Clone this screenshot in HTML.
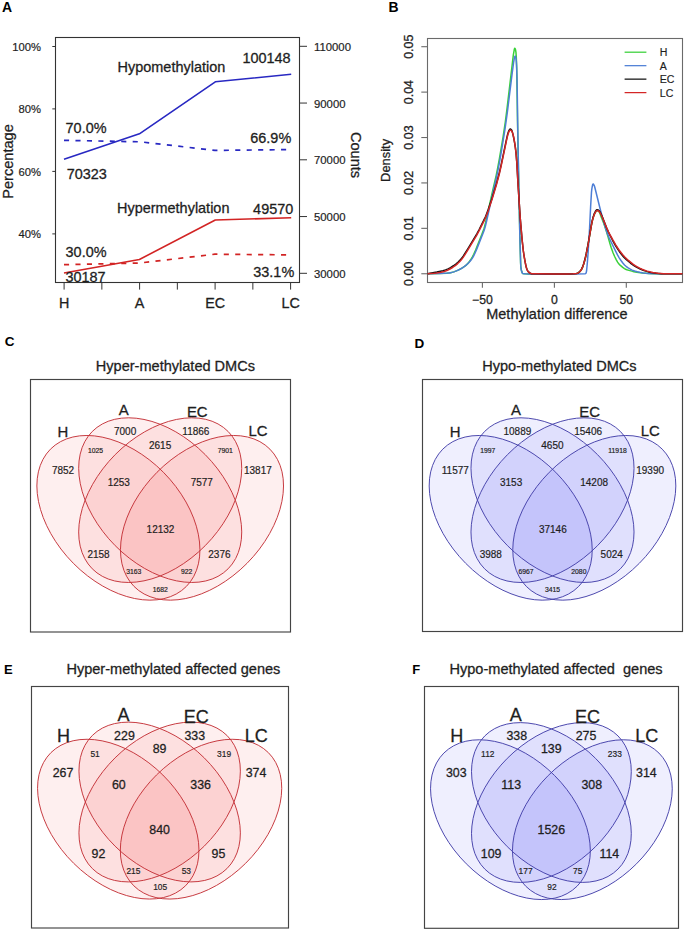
<!DOCTYPE html><html><head><meta charset="utf-8"><style>html,body{margin:0;padding:0;background:#fff;width:685px;height:932px;overflow:hidden}svg{display:block}text{font-family:"Liberation Sans",sans-serif}</style></head><body>
<svg width="685" height="932" viewBox="0 0 685 932">
<rect x="0" y="0" width="685" height="932" fill="#fff"/>
<text transform="translate(2 11.6)" font-size="14" text-anchor="start" font-weight="bold" fill="#000" stroke="#000" stroke-width="0" xml:space="preserve">A</text>
<rect x="55.5" y="37.5" width="244" height="245" fill="none" stroke="#333" stroke-width="1.1"/>
<line x1="52.3" y1="46.5" x2="55.5" y2="46.5" stroke="#333" stroke-width="1"/>
<text transform="translate(40.9 50.6) scale(1.03 1)" font-size="10.9" text-anchor="end" font-weight="normal" fill="#1e1e1e" stroke="#1e1e1e" stroke-width="0.18" xml:space="preserve">100%</text>
<line x1="52.3" y1="108.9" x2="55.5" y2="108.9" stroke="#333" stroke-width="1"/>
<text transform="translate(40.9 113) scale(1.03 1)" font-size="10.9" text-anchor="end" font-weight="normal" fill="#1e1e1e" stroke="#1e1e1e" stroke-width="0.18" xml:space="preserve">80%</text>
<line x1="52.3" y1="171.4" x2="55.5" y2="171.4" stroke="#333" stroke-width="1"/>
<text transform="translate(40.9 175.5) scale(1.03 1)" font-size="10.9" text-anchor="end" font-weight="normal" fill="#1e1e1e" stroke="#1e1e1e" stroke-width="0.18" xml:space="preserve">60%</text>
<line x1="52.3" y1="233.9" x2="55.5" y2="233.9" stroke="#333" stroke-width="1"/>
<text transform="translate(40.9 238) scale(1.03 1)" font-size="10.9" text-anchor="end" font-weight="normal" fill="#1e1e1e" stroke="#1e1e1e" stroke-width="0.18" xml:space="preserve">40%</text>
<line x1="299.5" y1="46.3" x2="307" y2="46.3" stroke="#333" stroke-width="1"/>
<text transform="translate(314 50.8) scale(1.03 1)" font-size="11" text-anchor="start" font-weight="normal" fill="#1e1e1e" stroke="#1e1e1e" stroke-width="0.18" xml:space="preserve">110000</text>
<line x1="299.5" y1="103.05" x2="307" y2="103.05" stroke="#333" stroke-width="1"/>
<text transform="translate(314 107.55) scale(1.03 1)" font-size="11" text-anchor="start" font-weight="normal" fill="#1e1e1e" stroke="#1e1e1e" stroke-width="0.18" xml:space="preserve">90000</text>
<line x1="299.5" y1="159.8" x2="307" y2="159.8" stroke="#333" stroke-width="1"/>
<text transform="translate(314 164.3) scale(1.03 1)" font-size="11" text-anchor="start" font-weight="normal" fill="#1e1e1e" stroke="#1e1e1e" stroke-width="0.18" xml:space="preserve">70000</text>
<line x1="299.5" y1="216.55" x2="307" y2="216.55" stroke="#333" stroke-width="1"/>
<text transform="translate(314 221.05) scale(1.03 1)" font-size="11" text-anchor="start" font-weight="normal" fill="#1e1e1e" stroke="#1e1e1e" stroke-width="0.18" xml:space="preserve">50000</text>
<line x1="299.5" y1="273.3" x2="307" y2="273.3" stroke="#333" stroke-width="1"/>
<text transform="translate(314 277.8) scale(1.03 1)" font-size="11" text-anchor="start" font-weight="normal" fill="#1e1e1e" stroke="#1e1e1e" stroke-width="0.18" xml:space="preserve">30000</text>
<line x1="64.1" y1="282.5" x2="64.1" y2="289.6" stroke="#333" stroke-width="1"/>
<line x1="101.85" y1="282.5" x2="101.85" y2="289.6" stroke="#333" stroke-width="1"/>
<line x1="139.6" y1="282.5" x2="139.6" y2="289.6" stroke="#333" stroke-width="1"/>
<line x1="177.35" y1="282.5" x2="177.35" y2="289.6" stroke="#333" stroke-width="1"/>
<line x1="215.1" y1="282.5" x2="215.1" y2="289.6" stroke="#333" stroke-width="1"/>
<line x1="252.85" y1="282.5" x2="252.85" y2="289.6" stroke="#333" stroke-width="1"/>
<line x1="290.6" y1="282.5" x2="290.6" y2="289.6" stroke="#333" stroke-width="1"/>
<text transform="translate(64.1 308.4) scale(1.04 1)" font-size="13.8" text-anchor="middle" font-weight="normal" fill="#1e1e1e" stroke="#1e1e1e" stroke-width="0.28" xml:space="preserve">H</text>
<text transform="translate(139.6 308.4) scale(1.04 1)" font-size="13.8" text-anchor="middle" font-weight="normal" fill="#1e1e1e" stroke="#1e1e1e" stroke-width="0.28" xml:space="preserve">A</text>
<text transform="translate(215.1 308.4) scale(1.04 1)" font-size="13.8" text-anchor="middle" font-weight="normal" fill="#1e1e1e" stroke="#1e1e1e" stroke-width="0.28" xml:space="preserve">EC</text>
<text transform="translate(290.6 308.4) scale(1.04 1)" font-size="13.8" text-anchor="middle" font-weight="normal" fill="#1e1e1e" stroke="#1e1e1e" stroke-width="0.28" xml:space="preserve">LC</text>
<text transform="translate(13.4 161.5) rotate(-90)" font-size="14.6" text-anchor="middle" font-weight="normal" fill="#1e1e1e" stroke="#1e1e1e" stroke-width="0.28" xml:space="preserve">Percentage</text>
<text transform="translate(351 155) rotate(90)" font-size="14.6" text-anchor="middle" font-weight="normal" fill="#1e1e1e" stroke="#1e1e1e" stroke-width="0.28" xml:space="preserve">Counts</text>
<polyline points="64,159.3 139.4,133.8 215.3,81.8 291.2,74.3" fill="none" stroke="#2828c2" stroke-width="1.6" stroke-linejoin="round"/>
<polyline points="64,140.3 140,141.8 215,150.4 291,149.6" fill="none" stroke="#2828c2" stroke-width="1.7" stroke-dasharray="5.1 6.35"/>
<polyline points="64,273 139.4,259.5 215.3,220 291.2,217.7" fill="none" stroke="#d22424" stroke-width="1.6" stroke-linejoin="round"/>
<polyline points="64,264.7 140,263 215,254.2 291,254.9" fill="none" stroke="#d22424" stroke-width="1.7" stroke-dasharray="5.1 6.35"/>
<text transform="translate(117.6 71.9) scale(1.04 1)" font-size="13.9" text-anchor="start" font-weight="normal" fill="#1e1e1e" stroke="#1e1e1e" stroke-width="0.28" xml:space="preserve">Hypomethylation</text>
<text transform="translate(290.6 62.8) scale(1.04 1)" font-size="13.9" text-anchor="end" font-weight="normal" fill="#1e1e1e" stroke="#1e1e1e" stroke-width="0.28" xml:space="preserve">100148</text>
<text transform="translate(65.6 132.5) scale(1.03 1)" font-size="14" text-anchor="start" font-weight="normal" fill="#1e1e1e" stroke="#1e1e1e" stroke-width="0.28" xml:space="preserve">70.0%</text>
<text transform="translate(66.8 179.1) scale(1.03 1)" font-size="14" text-anchor="start" font-weight="normal" fill="#1e1e1e" stroke="#1e1e1e" stroke-width="0.28" xml:space="preserve">70323</text>
<text transform="translate(291.2 142.7) scale(1.03 1)" font-size="14" text-anchor="end" font-weight="normal" fill="#1e1e1e" stroke="#1e1e1e" stroke-width="0.28" xml:space="preserve">66.9%</text>
<text transform="translate(117 213.3) scale(1.04 1)" font-size="13.9" text-anchor="start" font-weight="normal" fill="#1e1e1e" stroke="#1e1e1e" stroke-width="0.28" xml:space="preserve">Hypermethylation</text>
<text transform="translate(293.2 214) scale(1.03 1)" font-size="14" text-anchor="end" font-weight="normal" fill="#1e1e1e" stroke="#1e1e1e" stroke-width="0.28" xml:space="preserve">49570</text>
<text transform="translate(65.6 257.3) scale(1.03 1)" font-size="14" text-anchor="start" font-weight="normal" fill="#1e1e1e" stroke="#1e1e1e" stroke-width="0.28" xml:space="preserve">30.0%</text>
<text transform="translate(65.4 282.3) scale(1.03 1)" font-size="14" text-anchor="start" font-weight="normal" fill="#1e1e1e" stroke="#1e1e1e" stroke-width="0.28" xml:space="preserve">30187</text>
<text transform="translate(294.2 276.6) scale(1.03 1)" font-size="14" text-anchor="end" font-weight="normal" fill="#1e1e1e" stroke="#1e1e1e" stroke-width="0.28" xml:space="preserve">33.1%</text>
<text transform="translate(388.6 11.8)" font-size="13.9" text-anchor="start" font-weight="bold" fill="#000" stroke="#000" stroke-width="0" xml:space="preserve">B</text>
<rect x="427.5" y="38.5" width="255" height="244" fill="none" stroke="#6a6a6a" stroke-width="1.1"/>
<line x1="421.3" y1="46.7" x2="427.5" y2="46.7" stroke="#6a6a6a" stroke-width="1.1"/>
<text transform="translate(413.4 46.7) rotate(-90)" font-size="12.5" text-anchor="middle" font-weight="normal" fill="#1e1e1e" stroke="#1e1e1e" stroke-width="0.28" xml:space="preserve">0.05</text>
<line x1="421.3" y1="92.11" x2="427.5" y2="92.11" stroke="#6a6a6a" stroke-width="1.1"/>
<text transform="translate(413.4 92.11) rotate(-90)" font-size="12.5" text-anchor="middle" font-weight="normal" fill="#1e1e1e" stroke="#1e1e1e" stroke-width="0.28" xml:space="preserve">0.04</text>
<line x1="421.3" y1="137.52" x2="427.5" y2="137.52" stroke="#6a6a6a" stroke-width="1.1"/>
<text transform="translate(413.4 137.52) rotate(-90)" font-size="12.5" text-anchor="middle" font-weight="normal" fill="#1e1e1e" stroke="#1e1e1e" stroke-width="0.28" xml:space="preserve">0.03</text>
<line x1="421.3" y1="182.93" x2="427.5" y2="182.93" stroke="#6a6a6a" stroke-width="1.1"/>
<text transform="translate(413.4 182.93) rotate(-90)" font-size="12.5" text-anchor="middle" font-weight="normal" fill="#1e1e1e" stroke="#1e1e1e" stroke-width="0.28" xml:space="preserve">0.02</text>
<line x1="421.3" y1="228.34" x2="427.5" y2="228.34" stroke="#6a6a6a" stroke-width="1.1"/>
<text transform="translate(413.4 228.34) rotate(-90)" font-size="12.5" text-anchor="middle" font-weight="normal" fill="#1e1e1e" stroke="#1e1e1e" stroke-width="0.28" xml:space="preserve">0.01</text>
<line x1="421.3" y1="273.75" x2="427.5" y2="273.75" stroke="#6a6a6a" stroke-width="1.1"/>
<text transform="translate(413.4 273.75) rotate(-90)" font-size="12.5" text-anchor="middle" font-weight="normal" fill="#1e1e1e" stroke="#1e1e1e" stroke-width="0.28" xml:space="preserve">0.00</text>
<line x1="482.4" y1="282.5" x2="482.4" y2="287.8" stroke="#6a6a6a" stroke-width="1.1"/>
<text transform="translate(482.4 304.4) scale(1.02 1)" font-size="12" text-anchor="middle" font-weight="normal" fill="#1e1e1e" stroke="#1e1e1e" stroke-width="0.28" xml:space="preserve">−50</text>
<line x1="554.4" y1="282.5" x2="554.4" y2="287.8" stroke="#6a6a6a" stroke-width="1.1"/>
<text transform="translate(554.4 304.4) scale(1.02 1)" font-size="12" text-anchor="middle" font-weight="normal" fill="#1e1e1e" stroke="#1e1e1e" stroke-width="0.28" xml:space="preserve">0</text>
<line x1="626.3" y1="282.5" x2="626.3" y2="287.8" stroke="#6a6a6a" stroke-width="1.1"/>
<text transform="translate(626.3 304.4) scale(1.02 1)" font-size="12" text-anchor="middle" font-weight="normal" fill="#1e1e1e" stroke="#1e1e1e" stroke-width="0.28" xml:space="preserve">50</text>
<text transform="translate(556.9 318.5) scale(1.02 1)" font-size="14.2" text-anchor="middle" font-weight="normal" fill="#1e1e1e" stroke="#1e1e1e" stroke-width="0.28" xml:space="preserve">Methylation difference</text>
<text transform="translate(389.9 160.4) rotate(-90)" font-size="12.9" text-anchor="middle" font-weight="normal" fill="#1e1e1e" stroke="#1e1e1e" stroke-width="0.28" xml:space="preserve">Density</text>
<line x1="624.6" y1="52.2" x2="646.4" y2="52.2" stroke="#38d038" stroke-width="1.25"/>
<text transform="translate(659.8 56.1) scale(0.98 1)" font-size="10.8" text-anchor="start" font-weight="normal" fill="#1e1e1e" stroke="#1e1e1e" stroke-width="0.18" xml:space="preserve">H</text>
<line x1="624.6" y1="65.67" x2="646.4" y2="65.67" stroke="#4d7ed6" stroke-width="1.25"/>
<text transform="translate(659.8 69.57) scale(0.98 1)" font-size="10.8" text-anchor="start" font-weight="normal" fill="#1e1e1e" stroke="#1e1e1e" stroke-width="0.18" xml:space="preserve">A</text>
<line x1="624.6" y1="79.14" x2="646.4" y2="79.14" stroke="#111" stroke-width="1.25"/>
<text transform="translate(659.8 83.04) scale(0.98 1)" font-size="10.8" text-anchor="start" font-weight="normal" fill="#1e1e1e" stroke="#1e1e1e" stroke-width="0.18" xml:space="preserve">EC</text>
<line x1="624.6" y1="92.61" x2="646.4" y2="92.61" stroke="#d42626" stroke-width="1.25"/>
<text transform="translate(659.8 96.51) scale(0.98 1)" font-size="10.8" text-anchor="start" font-weight="normal" fill="#1e1e1e" stroke="#1e1e1e" stroke-width="0.18" xml:space="preserve">LC</text>
<g fill="none" stroke-width="1.5" stroke-linejoin="round">
<path d="M427.5,273.7 L438.7,273.45 L446.74,273.15 L448.69,273.02 L450.64,272.74 L453.85,271.88 L457.63,270.37 L461.17,268.56 L464.53,266.44 L466.54,264.83 L468.43,262.87 L470.48,260.06 L472.56,256.63 L473.72,254.33 L475.62,250.1 L481.88,234.38 L483.86,229.05 L484.59,226.55 L485.5,222.89 L492.5,191.31 L496.25,175.06 L497.74,167.74 L499.5,158.14 L503.1,136.77 L505.3,122.16 L506.87,109.95 L513.35,54.85 L514.28,49.51 L514.62,48.38 L514.8,48.2 L515.07,48.46 L515.6,50 L515.97,52.41 L516.29,57.23 L516.72,67.99 L517.52,121.05 L518.35,165.08 L519.86,236.27 L520.63,263.03 L520.79,266.3 L521.11,269.03 L521.78,271.81 L522.29,272.92 L522.6,273.3 L522.96,273.54 L523.36,273.63 L525.09,273.8 L528.32,273.96 L541.97,274.18 L558.49,274.16 L568.74,273.99 L574.71,273.73 L576.43,273.56 L577.39,273.34 L578.92,272.44 L580.4,271 L581.3,269.8 L581.87,268.82 L583.1,265.88 L584.39,261.73 L585.55,257.32 L586.7,251.83 L588.39,242.9 L591.28,225.94 L592.35,220.78 L593.46,216.8 L594.55,213.89 L595.85,211.61 L596.61,210.79 L597,210.6 L597.5,210.61 L598.02,210.81 L598.53,211.16 L599,211.6 L599.58,212.51 L601,216.5 L603.5,222.64 L604.84,226.44 L606.3,231.04 L607.89,236.33 L609.93,243.62 L611.15,247.5 L612.93,252.52 L614.52,256.27 L616.3,259.8 L617.62,262.08 L618.34,263.15 L620.09,265.13 L622.73,267.41 L624.44,268.57 L625.63,269.22 L626.92,269.75 L628.91,270.36 L632.78,271.4 L635.31,271.95 L638.55,272.49 L642.6,272.98 L648.62,273.48 L656.04,273.72 L682.5,273.7" stroke="#38d038"/>
<path d="M427.5,273.7 L440.02,273.41 L447.4,273.11 L449.34,272.94 L451.3,272.6 L453.85,271.88 L456.39,270.92 L459.42,269.5 L462.86,267.53 L465.52,265.64 L467.99,263.48 L470.29,260.98 L471.92,258.85 L473.3,256.64 L474.72,253.74 L476.83,248.87 L483.72,231.41 L484.56,229.05 L485.29,226.55 L486.51,221.53 L493.2,191.31 L496.65,176.42 L497.94,170.28 L499.45,162.35 L501.31,151.76 L504.92,129.52 L507.29,112.61 L512.22,72.95 L513.62,62.48 L514.3,58.42 L514.86,56.4 L515.1,56.1 L515.37,56.38 L515.9,58 L516.3,60.95 L516.54,65.07 L516.98,77.16 L517.33,97 L517.74,128.81 L518.74,183.13 L519.87,236.97 L520.63,263.03 L520.79,266.3 L521.11,269.03 L521.78,271.81 L522.29,272.92 L522.6,273.3 L522.96,273.54 L525.01,273.8 L530.28,274 L540.02,274.13 L557.56,274.15 L574.01,273.99 L585.35,273.67 L585.8,273.4 L586.22,272.63 L586.59,270.75 L587.43,261.78 L588.08,252.89 L589.48,230.04 L590.62,206.66 L591.47,192.35 L591.85,188.76 L592.32,186.07 L592.68,184.64 L592.88,184.19 L593.1,184 L593.45,184.22 L593.84,184.81 L594.4,185.95 L594.73,186.99 L600.17,208.95 L602.08,216.25 L605.5,228.04 L607.5,233.9 L609.03,237.56 L610.75,241.27 L615.6,251.2 L617.52,254.93 L619.2,257.8 L621.18,260.78 L622.82,262.99 L624.55,264.96 L626.02,266.31 L628.15,267.9 L630.35,269.21 L632.14,270.09 L634.64,271.01 L637.29,271.76 L639.85,272.33 L643.28,272.94 L646,273.3 L648.61,273.52 L655.51,273.71 L682.5,273.7" stroke="#4d7ed6"/>
<path d="M427.5,273.7 L436.83,271.98 L442.93,270.66 L445.59,269.9 L448.11,268.86 L450.52,267.59 L453.45,265.76 L456.14,263.78 L458.17,262.01 L460.04,260.12 L461.8,258.1 L463.38,255.97 L468.42,247.89 L476.84,233.87 L479.03,229.76 L484.56,218.69 L485.7,216.2 L488.12,209.85 L492.06,198.17 L496.36,183.85 L499.5,172.1 L501.19,164.69 L506.47,139.47 L507.6,134.5 L508.27,132.26 L509.02,130.36 L509.78,129.3 L510.3,129 L510.86,129.19 L511.4,129.7 L511.64,130.06 L512.22,131.59 L512.95,134.37 L513.84,138.53 L514.63,142.87 L515.37,147.63 L516,152.65 L516.86,163.12 L518.12,185.77 L520.25,218.41 L522.09,239.55 L523.38,251.25 L524.01,255.51 L525.13,261.91 L525.71,264.85 L526.36,267.49 L526.92,269.2 L527.56,270.61 L528.27,271.64 L529.26,272.6 L529.81,272.96 L531,273.5 L531.52,273.66 L532.56,273.78 L536,273.7 L554.23,273.95 L568.24,273.95 L573.5,273.81 L576.92,273.49 L577.9,273.1 L579.43,271.94 L580.4,270.87 L581.3,269.6 L582.39,267.46 L583.54,264.22 L585.08,258.81 L586.28,253.47 L588.13,243.8 L591.66,223.3 L592.35,220.1 L593.26,216.67 L594.31,213.53 L595.48,211.28 L596.22,210.24 L596.61,209.89 L597,209.7 L597.49,209.7 L598.52,210.22 L599.37,210.98 L600.04,211.97 L601,213.8 L602.5,217.22 L606.75,228.19 L608.42,232 L610.21,235.72 L612.44,240.03 L615.06,244.77 L617.09,248.2 L620.06,252.58 L621.8,254.83 L623.61,256.93 L626.43,259.77 L630.4,263.02 L633.19,265.03 L635.52,266.51 L637.86,267.83 L640.22,268.98 L643.24,270.25 L645.77,271.14 L648.4,271.9 L650.87,272.46 L656.06,273.28 L661.4,273.64 L667.91,273.77 L682.5,273.7" stroke="#111"/>
<path d="M427.5,273.7 L434.21,273.26 L436.83,272.99 L440.9,272.28 L444.26,271.44 L446.9,270.5 L449.92,269.03 L452.88,267.25 L455.6,265.3 L457.68,263.56 L459.58,261.71 L461.37,259.72 L463,257.62 L464.49,255.38 L468.07,249.58 L476.51,235.55 L479.03,230.86 L484.56,219.79 L485.7,217.3 L488.12,210.95 L492.06,199.27 L496.36,184.95 L499.5,173.2 L501.19,165.79 L506.47,140.57 L507.6,135.6 L508.27,133.36 L509.02,131.46 L509.78,130.4 L510.3,130.1 L510.86,130.31 L511.4,130.8 L512.02,131.66 L512.6,133 L513.11,134.72 L513.76,137.64 L514.53,141.95 L515.37,147.6 L516,152.65 L516.86,163.12 L518.12,185.77 L520.25,218.41 L522.09,239.55 L523.38,251.25 L524.01,255.51 L525.13,261.91 L525.71,264.85 L526.36,267.49 L526.92,269.2 L527.56,270.61 L528.27,271.64 L529.26,272.6 L529.81,272.96 L531,273.5 L531.52,273.66 L532.56,273.78 L536,273.7 L554.23,273.95 L567.53,273.96 L573.04,273.83 L576.41,273.56 L577.39,273.34 L577.9,273.1 L579.42,272.01 L580.4,271 L581.3,269.8 L582.39,267.72 L583.54,264.55 L585.08,259.23 L586.28,253.93 L588.13,244.3 L591.66,223.92 L592.35,220.78 L593.26,217.45 L594.32,214.41 L595.48,212.19 L596.22,211.15 L596.6,210.8 L597,210.6 L597.49,210.58 L598.01,210.75 L599,211.4 L599.72,212.21 L600.36,213.29 L602.1,216.79 L606.75,228.1 L608.47,231.79 L610.37,235.47 L612.73,239.73 L615.53,244.53 L617.7,248.02 L619.2,250.2 L621.37,253.06 L623.16,255.19 L625,257.2 L628.4,260.42 L632.98,264.1 L635.09,265.59 L637.28,266.94 L639.62,268.17 L642,269.25 L644.5,270.25 L647.07,271.11 L649.62,271.83 L652.8,272.54 L657.99,273.34 L663.55,273.72 L669.3,273.8 L682.5,273.7" stroke="#d42626"/>
</g>
<rect x="30.5" y="379.5" width="260" height="252.5" fill="none" stroke="#444" stroke-width="1.15"/>
<g transform="translate(160.2 435.2) scale(1 1.01) translate(-160.5 -435.2)">
<g fill="#f00000" fill-opacity="0.064" stroke="none">
<ellipse cx="118.7" cy="517" rx="96.1" ry="63.7" transform="rotate(45 118.7 517)"/>
<ellipse cx="160.5" cy="499.5" rx="96.1" ry="63.7" transform="rotate(45 160.5 499.5)"/>
<ellipse cx="160.5" cy="499.5" rx="96.1" ry="63.7" transform="rotate(-45 160.5 499.5)"/>
<ellipse cx="202.3" cy="517" rx="96.1" ry="63.7" transform="rotate(-45 202.3 517)"/>
</g>
<g fill="none" stroke="#c43238" stroke-width="0.89">
<ellipse cx="118.7" cy="517" rx="96.1" ry="63.7" transform="rotate(45 118.7 517)"/>
<ellipse cx="160.5" cy="499.5" rx="96.1" ry="63.7" transform="rotate(45 160.5 499.5)"/>
<ellipse cx="160.5" cy="499.5" rx="96.1" ry="63.7" transform="rotate(-45 160.5 499.5)"/>
<ellipse cx="202.3" cy="517" rx="96.1" ry="63.7" transform="rotate(-45 202.3 517)"/>
</g></g>
<text transform="translate(62.9 436.5)" font-size="14.9" text-anchor="middle" font-weight="normal" fill="#1e1e1e" stroke="#1e1e1e" stroke-width="0.28" xml:space="preserve">H</text>
<text transform="translate(123.75 415.2)" font-size="14.9" text-anchor="middle" font-weight="normal" fill="#1e1e1e" stroke="#1e1e1e" stroke-width="0.28" xml:space="preserve">A</text>
<text transform="translate(197.25 417.1)" font-size="14.9" text-anchor="middle" font-weight="normal" fill="#1e1e1e" stroke="#1e1e1e" stroke-width="0.28" xml:space="preserve">EC</text>
<text transform="translate(257.95 436.1)" font-size="14.9" text-anchor="middle" font-weight="normal" fill="#1e1e1e" stroke="#1e1e1e" stroke-width="0.28" xml:space="preserve">LC</text>
<text transform="translate(63 473.8)" font-size="10" text-anchor="middle" font-weight="normal" fill="#1e1e1e" stroke="#1e1e1e" stroke-width="0.18" xml:space="preserve">7852</text>
<text transform="translate(125.1 434.6)" font-size="10" text-anchor="middle" font-weight="normal" fill="#1e1e1e" stroke="#1e1e1e" stroke-width="0.18" xml:space="preserve">7000</text>
<text transform="translate(195.85 434.6)" font-size="10" text-anchor="middle" font-weight="normal" fill="#1e1e1e" stroke="#1e1e1e" stroke-width="0.18" xml:space="preserve">11866</text>
<text transform="translate(257.85 473.7)" font-size="10" text-anchor="middle" font-weight="normal" fill="#1e1e1e" stroke="#1e1e1e" stroke-width="0.18" xml:space="preserve">13817</text>
<text transform="translate(95.5 453.3)" font-size="6.8" text-anchor="middle" font-weight="normal" fill="#1e1e1e" stroke="#1e1e1e" stroke-width="0.18" xml:space="preserve">1025</text>
<text transform="translate(160.1 448.5)" font-size="10" text-anchor="middle" font-weight="normal" fill="#1e1e1e" stroke="#1e1e1e" stroke-width="0.18" xml:space="preserve">2615</text>
<text transform="translate(225.2 453.2)" font-size="6.8" text-anchor="middle" font-weight="normal" fill="#1e1e1e" stroke="#1e1e1e" stroke-width="0.18" xml:space="preserve">7901</text>
<text transform="translate(118.8 485.5)" font-size="10" text-anchor="middle" font-weight="normal" fill="#1e1e1e" stroke="#1e1e1e" stroke-width="0.18" xml:space="preserve">1253</text>
<text transform="translate(201.8 486)" font-size="10" text-anchor="middle" font-weight="normal" fill="#1e1e1e" stroke="#1e1e1e" stroke-width="0.18" xml:space="preserve">7577</text>
<text transform="translate(160.5 533.1)" font-size="10" text-anchor="middle" font-weight="normal" fill="#1e1e1e" stroke="#1e1e1e" stroke-width="0.18" xml:space="preserve">12132</text>
<text transform="translate(98.5 558.1)" font-size="10" text-anchor="middle" font-weight="normal" fill="#1e1e1e" stroke="#1e1e1e" stroke-width="0.18" xml:space="preserve">2158</text>
<text transform="translate(219.4 558.1)" font-size="10" text-anchor="middle" font-weight="normal" fill="#1e1e1e" stroke="#1e1e1e" stroke-width="0.18" xml:space="preserve">2376</text>
<text transform="translate(133.75 574.4)" font-size="6.8" text-anchor="middle" font-weight="normal" fill="#1e1e1e" stroke="#1e1e1e" stroke-width="0.18" xml:space="preserve">3163</text>
<text transform="translate(186.55 574.4)" font-size="6.8" text-anchor="middle" font-weight="normal" fill="#1e1e1e" stroke="#1e1e1e" stroke-width="0.18" xml:space="preserve">922</text>
<text transform="translate(160.25 591.5)" font-size="6.8" text-anchor="middle" font-weight="normal" fill="#1e1e1e" stroke="#1e1e1e" stroke-width="0.18" xml:space="preserve">1682</text>
<rect x="422.5" y="379.5" width="260" height="252" fill="none" stroke="#444" stroke-width="1.15"/>
<g transform="translate(552.5 435.2) scale(1 1.01) translate(-160.5 -435.2)">
<g fill="#0000f0" fill-opacity="0.064" stroke="none">
<ellipse cx="118.7" cy="517" rx="96.1" ry="63.7" transform="rotate(45 118.7 517)"/>
<ellipse cx="160.5" cy="499.5" rx="96.1" ry="63.7" transform="rotate(45 160.5 499.5)"/>
<ellipse cx="160.5" cy="499.5" rx="96.1" ry="63.7" transform="rotate(-45 160.5 499.5)"/>
<ellipse cx="202.3" cy="517" rx="96.1" ry="63.7" transform="rotate(-45 202.3 517)"/>
</g>
<g fill="none" stroke="#4440aa" stroke-width="0.89">
<ellipse cx="118.7" cy="517" rx="96.1" ry="63.7" transform="rotate(45 118.7 517)"/>
<ellipse cx="160.5" cy="499.5" rx="96.1" ry="63.7" transform="rotate(45 160.5 499.5)"/>
<ellipse cx="160.5" cy="499.5" rx="96.1" ry="63.7" transform="rotate(-45 160.5 499.5)"/>
<ellipse cx="202.3" cy="517" rx="96.1" ry="63.7" transform="rotate(-45 202.3 517)"/>
</g></g>
<text transform="translate(455.2 436.5)" font-size="14.9" text-anchor="middle" font-weight="normal" fill="#1e1e1e" stroke="#1e1e1e" stroke-width="0.28" xml:space="preserve">H</text>
<text transform="translate(516.05 415.2)" font-size="14.9" text-anchor="middle" font-weight="normal" fill="#1e1e1e" stroke="#1e1e1e" stroke-width="0.28" xml:space="preserve">A</text>
<text transform="translate(589.55 417.1)" font-size="14.9" text-anchor="middle" font-weight="normal" fill="#1e1e1e" stroke="#1e1e1e" stroke-width="0.28" xml:space="preserve">EC</text>
<text transform="translate(650.25 436.1)" font-size="14.9" text-anchor="middle" font-weight="normal" fill="#1e1e1e" stroke="#1e1e1e" stroke-width="0.28" xml:space="preserve">LC</text>
<text transform="translate(455.3 473.8)" font-size="10" text-anchor="middle" font-weight="normal" fill="#1e1e1e" stroke="#1e1e1e" stroke-width="0.18" xml:space="preserve">11577</text>
<text transform="translate(517.4 434.6)" font-size="10" text-anchor="middle" font-weight="normal" fill="#1e1e1e" stroke="#1e1e1e" stroke-width="0.18" xml:space="preserve">10889</text>
<text transform="translate(588.15 434.6)" font-size="10" text-anchor="middle" font-weight="normal" fill="#1e1e1e" stroke="#1e1e1e" stroke-width="0.18" xml:space="preserve">15406</text>
<text transform="translate(650.15 473.7)" font-size="10" text-anchor="middle" font-weight="normal" fill="#1e1e1e" stroke="#1e1e1e" stroke-width="0.18" xml:space="preserve">19390</text>
<text transform="translate(487.8 453.3)" font-size="6.8" text-anchor="middle" font-weight="normal" fill="#1e1e1e" stroke="#1e1e1e" stroke-width="0.18" xml:space="preserve">1997</text>
<text transform="translate(552.4 448.5)" font-size="10" text-anchor="middle" font-weight="normal" fill="#1e1e1e" stroke="#1e1e1e" stroke-width="0.18" xml:space="preserve">4650</text>
<text transform="translate(617.5 453.2)" font-size="6.8" text-anchor="middle" font-weight="normal" fill="#1e1e1e" stroke="#1e1e1e" stroke-width="0.18" xml:space="preserve">11918</text>
<text transform="translate(511.1 485.5)" font-size="10" text-anchor="middle" font-weight="normal" fill="#1e1e1e" stroke="#1e1e1e" stroke-width="0.18" xml:space="preserve">3153</text>
<text transform="translate(594.1 486)" font-size="10" text-anchor="middle" font-weight="normal" fill="#1e1e1e" stroke="#1e1e1e" stroke-width="0.18" xml:space="preserve">14208</text>
<text transform="translate(552.8 533.1)" font-size="10" text-anchor="middle" font-weight="normal" fill="#1e1e1e" stroke="#1e1e1e" stroke-width="0.18" xml:space="preserve">37146</text>
<text transform="translate(490.8 558.1)" font-size="10" text-anchor="middle" font-weight="normal" fill="#1e1e1e" stroke="#1e1e1e" stroke-width="0.18" xml:space="preserve">3988</text>
<text transform="translate(611.7 558.1)" font-size="10" text-anchor="middle" font-weight="normal" fill="#1e1e1e" stroke="#1e1e1e" stroke-width="0.18" xml:space="preserve">5024</text>
<text transform="translate(526.05 574.4)" font-size="6.8" text-anchor="middle" font-weight="normal" fill="#1e1e1e" stroke="#1e1e1e" stroke-width="0.18" xml:space="preserve">6967</text>
<text transform="translate(578.85 574.4)" font-size="6.8" text-anchor="middle" font-weight="normal" fill="#1e1e1e" stroke="#1e1e1e" stroke-width="0.18" xml:space="preserve">2080</text>
<text transform="translate(552.55 591.5)" font-size="6.8" text-anchor="middle" font-weight="normal" fill="#1e1e1e" stroke="#1e1e1e" stroke-width="0.18" xml:space="preserve">3415</text>
<text transform="translate(175.4 370.5) scale(1.04 1)" font-size="14" text-anchor="middle" font-weight="normal" fill="#1e1e1e" stroke="#1e1e1e" stroke-width="0.28" xml:space="preserve">Hyper-methylated DMCs</text>
<text transform="translate(559.4 370.5) scale(1.04 1)" font-size="14" text-anchor="middle" font-weight="normal" fill="#1e1e1e" stroke="#1e1e1e" stroke-width="0.28" xml:space="preserve">Hypo-methylated DMCs</text>
<text transform="translate(4.8 345.9)" font-size="13.5" text-anchor="start" font-weight="bold" fill="#000" stroke="#000" stroke-width="0" xml:space="preserve">C</text>
<text transform="translate(414.4 347.7)" font-size="13.5" text-anchor="start" font-weight="bold" fill="#000" stroke="#000" stroke-width="0" xml:space="preserve">D</text>
<rect x="31.5" y="686.5" width="257" height="241.5" fill="none" stroke="#444" stroke-width="1.15"/>
<g transform="translate(159.65 739) scale(0.99 0.98) translate(-160.5 -435.2)">
<g fill="#f00000" fill-opacity="0.064" stroke="none">
<ellipse cx="118.7" cy="517" rx="96.1" ry="63.7" transform="rotate(45 118.7 517)"/>
<ellipse cx="160.5" cy="499.5" rx="96.1" ry="63.7" transform="rotate(45 160.5 499.5)"/>
<ellipse cx="160.5" cy="499.5" rx="96.1" ry="63.7" transform="rotate(-45 160.5 499.5)"/>
<ellipse cx="202.3" cy="517" rx="96.1" ry="63.7" transform="rotate(-45 202.3 517)"/>
</g>
<g fill="none" stroke="#c43238" stroke-width="0.91">
<ellipse cx="118.7" cy="517" rx="96.1" ry="63.7" transform="rotate(45 118.7 517)"/>
<ellipse cx="160.5" cy="499.5" rx="96.1" ry="63.7" transform="rotate(45 160.5 499.5)"/>
<ellipse cx="160.5" cy="499.5" rx="96.1" ry="63.7" transform="rotate(-45 160.5 499.5)"/>
<ellipse cx="202.3" cy="517" rx="96.1" ry="63.7" transform="rotate(-45 202.3 517)"/>
</g></g>
<text transform="translate(63.45 741.8)" font-size="18" text-anchor="middle" font-weight="normal" fill="#1e1e1e" stroke="#1e1e1e" stroke-width="0.28" xml:space="preserve">H</text>
<text transform="translate(123.5 721.4)" font-size="18" text-anchor="middle" font-weight="normal" fill="#1e1e1e" stroke="#1e1e1e" stroke-width="0.28" xml:space="preserve">A</text>
<text transform="translate(196.35 723.2)" font-size="18" text-anchor="middle" font-weight="normal" fill="#1e1e1e" stroke="#1e1e1e" stroke-width="0.28" xml:space="preserve">EC</text>
<text transform="translate(256.35 741.8)" font-size="18" text-anchor="middle" font-weight="normal" fill="#1e1e1e" stroke="#1e1e1e" stroke-width="0.28" xml:space="preserve">LC</text>
<text transform="translate(63.05 776.9)" font-size="12.4" text-anchor="middle" font-weight="normal" fill="#1e1e1e" stroke="#1e1e1e" stroke-width="0.28" xml:space="preserve">267</text>
<text transform="translate(124.45 739.9)" font-size="12.4" text-anchor="middle" font-weight="normal" fill="#1e1e1e" stroke="#1e1e1e" stroke-width="0.28" xml:space="preserve">229</text>
<text transform="translate(194.75 739.9)" font-size="12.4" text-anchor="middle" font-weight="normal" fill="#1e1e1e" stroke="#1e1e1e" stroke-width="0.28" xml:space="preserve">333</text>
<text transform="translate(256.05 777)" font-size="12.4" text-anchor="middle" font-weight="normal" fill="#1e1e1e" stroke="#1e1e1e" stroke-width="0.28" xml:space="preserve">374</text>
<text transform="translate(95.05 757.3)" font-size="8.4" text-anchor="middle" font-weight="normal" fill="#1e1e1e" stroke="#1e1e1e" stroke-width="0.18" xml:space="preserve">51</text>
<text transform="translate(159.55 752.8)" font-size="12.4" text-anchor="middle" font-weight="normal" fill="#1e1e1e" stroke="#1e1e1e" stroke-width="0.28" xml:space="preserve">89</text>
<text transform="translate(224.05 757.3)" font-size="8.4" text-anchor="middle" font-weight="normal" fill="#1e1e1e" stroke="#1e1e1e" stroke-width="0.18" xml:space="preserve">319</text>
<text transform="translate(118.85 789.3)" font-size="12.4" text-anchor="middle" font-weight="normal" fill="#1e1e1e" stroke="#1e1e1e" stroke-width="0.28" xml:space="preserve">60</text>
<text transform="translate(200.65 788.7)" font-size="12.4" text-anchor="middle" font-weight="normal" fill="#1e1e1e" stroke="#1e1e1e" stroke-width="0.28" xml:space="preserve">336</text>
<text transform="translate(159.6 834.2)" font-size="12.4" text-anchor="middle" font-weight="normal" fill="#1e1e1e" stroke="#1e1e1e" stroke-width="0.28" xml:space="preserve">840</text>
<text transform="translate(98.5 858.3)" font-size="12.4" text-anchor="middle" font-weight="normal" fill="#1e1e1e" stroke="#1e1e1e" stroke-width="0.28" xml:space="preserve">92</text>
<text transform="translate(218.45 858.3)" font-size="12.4" text-anchor="middle" font-weight="normal" fill="#1e1e1e" stroke="#1e1e1e" stroke-width="0.28" xml:space="preserve">95</text>
<text transform="translate(133.45 873.6)" font-size="8.4" text-anchor="middle" font-weight="normal" fill="#1e1e1e" stroke="#1e1e1e" stroke-width="0.18" xml:space="preserve">215</text>
<text transform="translate(186.3 873.6)" font-size="8.4" text-anchor="middle" font-weight="normal" fill="#1e1e1e" stroke="#1e1e1e" stroke-width="0.18" xml:space="preserve">53</text>
<text transform="translate(160.15 889.9)" font-size="8.4" text-anchor="middle" font-weight="normal" fill="#1e1e1e" stroke="#1e1e1e" stroke-width="0.18" xml:space="preserve">105</text>
<rect x="424.5" y="686.5" width="254" height="241.8" fill="none" stroke="#444" stroke-width="1.15"/>
<g transform="translate(551.4 739.5) scale(0.98 0.98) translate(-160.5 -435.2)">
<g fill="#0000f0" fill-opacity="0.064" stroke="none">
<ellipse cx="118.7" cy="517" rx="96.1" ry="63.7" transform="rotate(45 118.7 517)"/>
<ellipse cx="160.5" cy="499.5" rx="96.1" ry="63.7" transform="rotate(45 160.5 499.5)"/>
<ellipse cx="160.5" cy="499.5" rx="96.1" ry="63.7" transform="rotate(-45 160.5 499.5)"/>
<ellipse cx="202.3" cy="517" rx="96.1" ry="63.7" transform="rotate(-45 202.3 517)"/>
</g>
<g fill="none" stroke="#4440aa" stroke-width="0.92">
<ellipse cx="118.7" cy="517" rx="96.1" ry="63.7" transform="rotate(45 118.7 517)"/>
<ellipse cx="160.5" cy="499.5" rx="96.1" ry="63.7" transform="rotate(45 160.5 499.5)"/>
<ellipse cx="160.5" cy="499.5" rx="96.1" ry="63.7" transform="rotate(-45 160.5 499.5)"/>
<ellipse cx="202.3" cy="517" rx="96.1" ry="63.7" transform="rotate(-45 202.3 517)"/>
</g></g>
<text transform="translate(456.64 741.8)" font-size="18" text-anchor="middle" font-weight="normal" fill="#1e1e1e" stroke="#1e1e1e" stroke-width="0.28" xml:space="preserve">H</text>
<text transform="translate(515.79 721.4)" font-size="18" text-anchor="middle" font-weight="normal" fill="#1e1e1e" stroke="#1e1e1e" stroke-width="0.28" xml:space="preserve">A</text>
<text transform="translate(587.55 723.2)" font-size="18" text-anchor="middle" font-weight="normal" fill="#1e1e1e" stroke="#1e1e1e" stroke-width="0.28" xml:space="preserve">EC</text>
<text transform="translate(646.65 741.8)" font-size="18" text-anchor="middle" font-weight="normal" fill="#1e1e1e" stroke="#1e1e1e" stroke-width="0.28" xml:space="preserve">LC</text>
<text transform="translate(456.25 776.9)" font-size="12.4" text-anchor="middle" font-weight="normal" fill="#1e1e1e" stroke="#1e1e1e" stroke-width="0.28" xml:space="preserve">303</text>
<text transform="translate(516.73 739.9)" font-size="12.4" text-anchor="middle" font-weight="normal" fill="#1e1e1e" stroke="#1e1e1e" stroke-width="0.28" xml:space="preserve">338</text>
<text transform="translate(585.97 739.9)" font-size="12.4" text-anchor="middle" font-weight="normal" fill="#1e1e1e" stroke="#1e1e1e" stroke-width="0.28" xml:space="preserve">275</text>
<text transform="translate(646.35 777)" font-size="12.4" text-anchor="middle" font-weight="normal" fill="#1e1e1e" stroke="#1e1e1e" stroke-width="0.28" xml:space="preserve">314</text>
<text transform="translate(487.77 757.3)" font-size="8.4" text-anchor="middle" font-weight="normal" fill="#1e1e1e" stroke="#1e1e1e" stroke-width="0.18" xml:space="preserve">112</text>
<text transform="translate(551.3 752.8)" font-size="12.4" text-anchor="middle" font-weight="normal" fill="#1e1e1e" stroke="#1e1e1e" stroke-width="0.28" xml:space="preserve">139</text>
<text transform="translate(614.83 757.3)" font-size="8.4" text-anchor="middle" font-weight="normal" fill="#1e1e1e" stroke="#1e1e1e" stroke-width="0.18" xml:space="preserve">233</text>
<text transform="translate(511.21 789.3)" font-size="12.4" text-anchor="middle" font-weight="normal" fill="#1e1e1e" stroke="#1e1e1e" stroke-width="0.28" xml:space="preserve">113</text>
<text transform="translate(591.78 788.7)" font-size="12.4" text-anchor="middle" font-weight="normal" fill="#1e1e1e" stroke="#1e1e1e" stroke-width="0.28" xml:space="preserve">308</text>
<text transform="translate(551.35 834.2)" font-size="12.4" text-anchor="middle" font-weight="normal" fill="#1e1e1e" stroke="#1e1e1e" stroke-width="0.28" xml:space="preserve">1526</text>
<text transform="translate(491.17 858.3)" font-size="12.4" text-anchor="middle" font-weight="normal" fill="#1e1e1e" stroke="#1e1e1e" stroke-width="0.28" xml:space="preserve">109</text>
<text transform="translate(609.32 858.3)" font-size="12.4" text-anchor="middle" font-weight="normal" fill="#1e1e1e" stroke="#1e1e1e" stroke-width="0.28" xml:space="preserve">114</text>
<text transform="translate(525.59 873.6)" font-size="8.4" text-anchor="middle" font-weight="normal" fill="#1e1e1e" stroke="#1e1e1e" stroke-width="0.18" xml:space="preserve">177</text>
<text transform="translate(577.65 873.6)" font-size="8.4" text-anchor="middle" font-weight="normal" fill="#1e1e1e" stroke="#1e1e1e" stroke-width="0.18" xml:space="preserve">75</text>
<text transform="translate(551.89 889.9)" font-size="8.4" text-anchor="middle" font-weight="normal" fill="#1e1e1e" stroke="#1e1e1e" stroke-width="0.18" xml:space="preserve">92</text>
<text transform="translate(173.4 674.3) scale(1.04 1)" font-size="14" text-anchor="middle" font-weight="normal" fill="#1e1e1e" stroke="#1e1e1e" stroke-width="0.28" xml:space="preserve">Hyper-methylated affected genes</text>
<text transform="translate(556.05 674.3) scale(1.04 1)" font-size="14" text-anchor="middle" font-weight="normal" fill="#1e1e1e" stroke="#1e1e1e" stroke-width="0.28" xml:space="preserve">Hypo-methylated affected  genes</text>
<text transform="translate(4.1 673.7)" font-size="13" text-anchor="start" font-weight="bold" fill="#000" stroke="#000" stroke-width="0" xml:space="preserve">E</text>
<text transform="translate(412.3 673.7)" font-size="13" text-anchor="start" font-weight="bold" fill="#000" stroke="#000" stroke-width="0" xml:space="preserve">F</text>
</svg></body></html>
